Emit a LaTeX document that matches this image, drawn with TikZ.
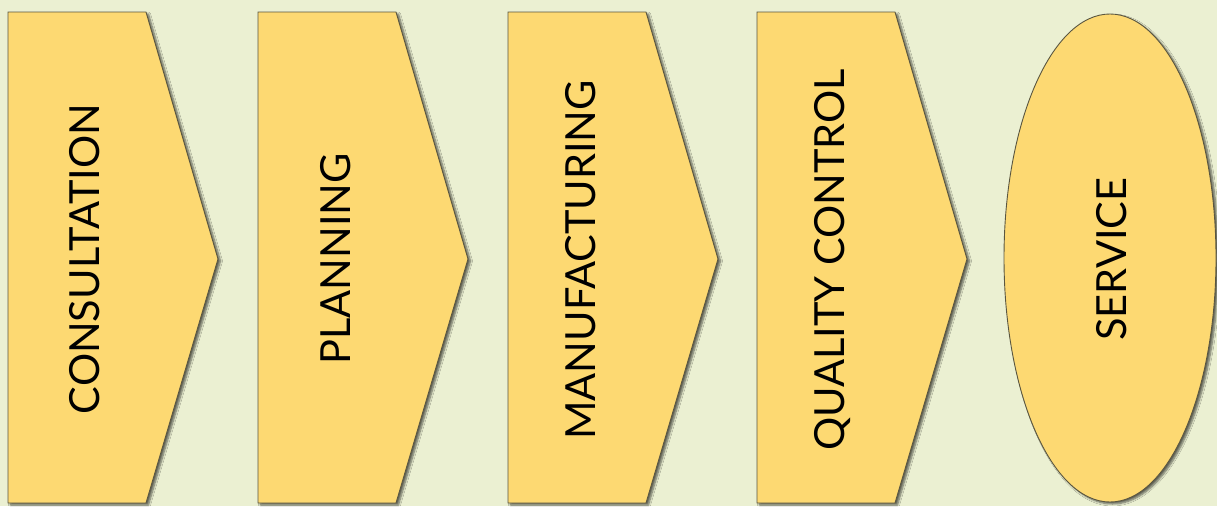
\documentclass[tikz,border=0pt]{standalone}
\usepackage{fontspec}
\setmainfont{Lato}
\usetikzlibrary{shadows.blur}
\definecolor{bg}{HTML}{EBF0D2}
\definecolor{boxfill}{HTML}{FDD972}
\definecolor{edge}{HTML}{5A5640}
\tikzset{
  stepshape/.style={fill=boxfill, draw=edge, line width=0.9pt,
    blur shadow={shadow xshift=2.5pt, shadow yshift=-2pt, shadow blur radius=2pt, shadow blur steps=6, shadow opacity=60}},
  steplabel/.style={rotate=90, font=\fontsize{41.5}{41.5}\selectfont, text=black, inner sep=0pt}
}
\begin{document}
\begin{tikzpicture}[x=1pt,y=-1pt]
\useasboundingbox (0,0) rectangle (1217,506);
\fill[bg] (0,0) rectangle (1217,506);
\foreach \x in {8,258,508,757}{
  \draw[stepshape] (\x,12) -- (\x+138,12) -- (\x+210,259) -- (\x+138,503) -- (\x,503) -- cycle;
}
\draw[stepshape] (1110,258) ellipse [x radius=106, y radius=244];
\node[steplabel] (c1) at (85,259) {CONSULTATION};
\node[steplabel] (c2) at (336,259) {PLANNING};
\node[steplabel] (c3) at (581,260) {MANUFACTURING};
\node[steplabel] (c4) at (833,260) {QUALITY CONTROL};
\node[steplabel] (c5) at (1112,259) {SERVICE};
\end{tikzpicture}
\end{document}
